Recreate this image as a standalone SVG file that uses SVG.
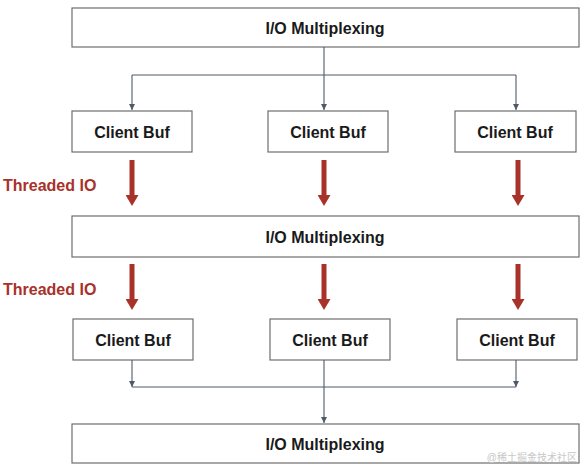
<svg xmlns="http://www.w3.org/2000/svg" width="588" height="468" viewBox="0 0 588 468">
<style>
.box{fill:#fff;stroke:#6e6e6e;stroke-width:1.2}
.t{font-family:"Liberation Sans",Arial,sans-serif;font-weight:bold;font-size:16px;fill:#1a1a1a;text-anchor:middle;dominant-baseline:central}
.red{font-family:"Liberation Sans",Arial,sans-serif;font-weight:bold;font-size:16px;fill:#a8322a}
.c{fill:none;stroke:#4d5b68;stroke-width:1.1}
.r{fill:none;stroke:#a8322a;stroke-width:5}
</style>
<defs>
<marker id="a" viewBox="0 0 10 10" refX="10" refY="5" markerWidth="6" markerHeight="6" markerUnits="userSpaceOnUse" orient="auto"><path d="M0,0L10,5L0,10z" fill="#4d5b68"/></marker>
<marker id="ra" viewBox="0 0 10 10" refX="0" refY="5" markerWidth="11" markerHeight="13" markerUnits="userSpaceOnUse" orient="auto" preserveAspectRatio="none"><path d="M0,0L10,5L0,10z" fill="#a8322a"/></marker>
</defs>
<rect width="588" height="468" fill="#fff"/>
<g id="mux1"><rect class="box" x="72" y="8" width="507" height="39"/><text class="t" x="325" y="28">I/O Multiplexing</text></g>
<g id="buf1a"><rect class="box" x="72" y="111" width="120" height="41"/><text class="t" x="132" y="132">Client Buf</text></g>
<g id="buf1b"><rect class="box" x="268" y="111" width="120" height="41"/><text class="t" x="328" y="132">Client Buf</text></g>
<g id="buf1c"><rect class="box" x="455" y="111" width="121" height="41"/><text class="t" x="515" y="132">Client Buf</text></g>
<g id="mux2"><rect class="box" x="72" y="216" width="507" height="41"/><text class="t" x="325" y="237">I/O Multiplexing</text></g>
<g id="buf2a"><rect class="box" x="73" y="319" width="120" height="41"/><text class="t" x="133" y="340">Client Buf</text></g>
<g id="buf2b"><rect class="box" x="270" y="319" width="120" height="41"/><text class="t" x="330" y="340">Client Buf</text></g>
<g id="buf2c"><rect class="box" x="457" y="319" width="120" height="41"/><text class="t" x="517" y="340">Client Buf</text></g>
<g id="mux3"><rect class="box" x="72" y="424" width="507" height="39"/><text class="t" x="325" y="444">I/O Multiplexing</text></g>
<g id="labels"><text class="red" x="3" y="191">Threaded IO</text><text class="red" x="3" y="295">Threaded IO</text></g>
<g id="connectors">
<path class="c" d="M324,47V75"/>
<path class="c" d="M132,75H516"/>
<path class="c" d="M132,75V110" marker-end="url(#a)"/>
<path class="c" d="M324,75V110" marker-end="url(#a)"/>
<path class="c" d="M516,75V110" marker-end="url(#a)"/>
<path class="r" d="M132,160V195" marker-end="url(#ra)"/>
<path class="r" d="M324,160V195" marker-end="url(#ra)"/>
<path class="r" d="M518,160V195" marker-end="url(#ra)"/>
<path class="r" d="M132,264V299" marker-end="url(#ra)"/>
<path class="r" d="M324,264V299" marker-end="url(#ra)"/>
<path class="r" d="M518,264V299" marker-end="url(#ra)"/>
<path class="c" d="M132,360V387" marker-end="url(#a)"/>
<path class="c" d="M516,360V387" marker-end="url(#a)"/>
<path class="c" d="M132,387H516"/>
<path class="c" d="M324,360V423" marker-end="url(#a)"/>
</g>
<text x="577" y="461" text-anchor="end" font-family="'Liberation Sans','Noto Sans CJK SC',sans-serif" font-size="10" fill="#c8c8c8">@稀土掘金技术社区</text>
</svg>
